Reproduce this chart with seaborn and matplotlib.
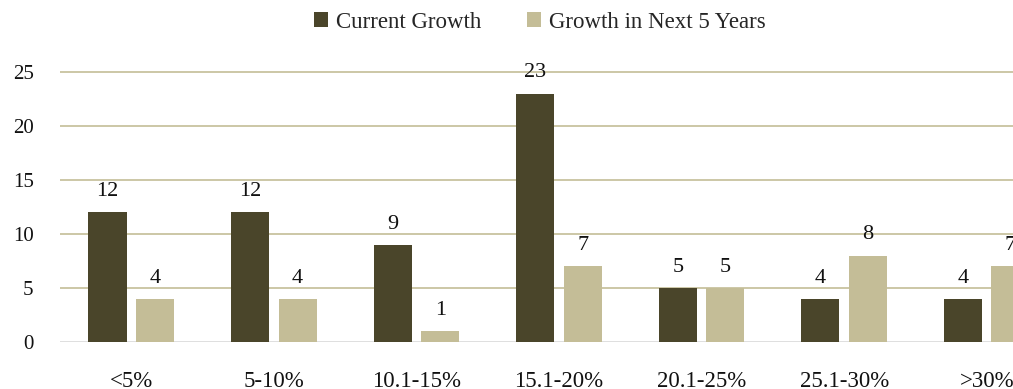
import numpy as np
import pandas as pd
import matplotlib
matplotlib.use("Agg")
import matplotlib.pyplot as plt
import seaborn as sns

categories = ["<5%", "5-10%", "10.1-15%", "15.1-20%", "20.1-25%", "25.1-30%", ">30%"]
current_growth = [12, 12, 9, 23, 5, 4, 4]
next5_growth = [4, 4, 1, 7, 5, 8, 7]
series_names = ["Current Growth", "Growth in Next 5 Years"]
yticks = [0, 5, 10, 15, 20, 25]

df = pd.DataFrame({
    "category": categories * 2,
    "value": current_growth + next5_growth,
    "series": [series_names[0]] * len(categories) + [series_names[1]] * len(categories),
})

sns.set_theme(style="white")
plt.rcParams["font.family"] = ["Liberation Serif", "DejaVu Serif"]

DARK = "#4A452A"
LIGHT = "#C4BD97"

fig = plt.figure(figsize=(10.13, 3.89), dpi=100)
ax = fig.add_axes([60 / 1013, 47 / 389, 998 / 1013, 280.8 / 389])

sns.barplot(data=df, x="category", y="value", hue="series", order=categories,
            hue_order=series_names, palette=[DARK, LIGHT], width=0.667, gap=0.2,
            saturation=1, linewidth=0, edgecolor="none", ax=ax, legend=True)

ax.set_ylim(0, 26)
ax.set_yticks(yticks)
ax.set_xlabel("")
ax.set_ylabel("")
for s in ax.spines.values():
    s.set_visible(False)
ax.grid(False)
for y in yticks[1:]:
    ax.axhline(y, color=LIGHT, lw=1.2, zorder=0)
ax.axhline(0, color="#D9D9D9", lw=1.2, zorder=0)

ax.tick_params(axis="y", length=0, pad=19, labelsize=15, labelcolor="#111111")
ax.tick_params(axis="x", length=0, pad=21, labelsize=16.5, labelcolor="#111111")

for cont in ax.containers:
    ax.bar_label(cont, padding=8, fontsize=16, color="#111111", clip_on=False)

leg = ax.get_legend()
handles = leg.legend_handles
leg.remove()
fig.legend(handles, series_names, loc="center", bbox_to_anchor=(540 / 1013, 1 - 22 / 389),
           ncol=2, frameon=False, fontsize=16.5, handlelength=0.6, handleheight=0.6,
           handletextpad=0.35, columnspacing=2.0)

fig.savefig("out.png", dpi=100)
